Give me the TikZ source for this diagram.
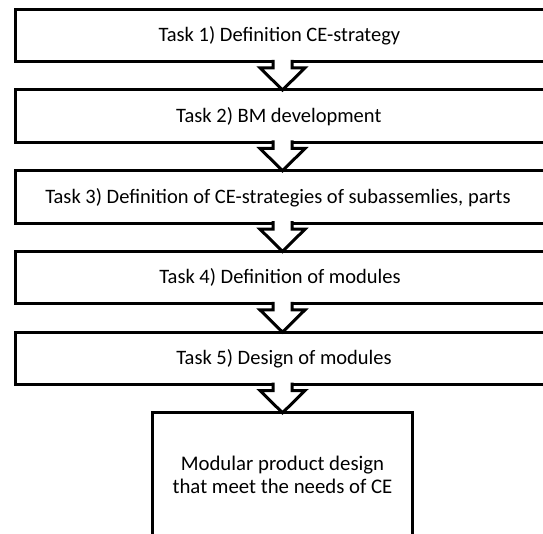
\documentclass[tikz,border=0pt]{standalone}
\usepackage{fontspec}
\setmainfont{Carlito}
\usetikzlibrary{positioning}
\usetikzlibrary{calc}
\tikzset{
    node distance=28.2pt,
    taskbox/.style={
        draw,
        line width=3pt,
        fill=white,
        minimum width=535pt,
        minimum height=52.5pt,
        inner sep=0pt,
        outer sep=0pt
    },
    tasktext/.style={
        anchor=base,
        inner sep=0pt,
        align=center,
        font=\fontsize{20.5}{23}\selectfont
    },
    blockarrow/.style={
        draw,
        fill=white,
        line width=3pt
    }
}

\begin{document}
\begin{tikzpicture}[x=1pt, y=-1pt]
    \useasboundingbox (0,0) rectangle (543,534);
    \clip (0,0) rectangle (543,534);

    \node[taskbox] (t1) at (282.5,35.55) {};
    \node[taskbox, below=of t1] (t2) {};
    \node[taskbox, below=of t2] (t3) {};
    \node[taskbox, below=of t3] (t4) {};
    \node[taskbox, below=of t4] (t5) {};
    \node[taskbox, below=of t5, minimum width=260.5pt, minimum height=146pt] (res) {};

    \node[tasktext, anchor=base west] (l1) at (158.3,41.8) {Task 1) Definition CE-strategy};
    \node[tasktext, anchor=base west] (l2) at (176,122.5) {Task 2) BM development};
    \node[tasktext] (l3) at (278,203.2) {Task 3) Definition of CE-strategies of subassemlies, parts};
    \node[tasktext] (l4) at (280,283.9) {Task 4) Definition of modules};
    \node[tasktext] (l5) at (284,364.6) {Task 5) Design of modules};
    \node[tasktext, font=\fontsize{20.8}{23}\selectfont] (lres) at (282.5,493) {Modular product design\\that meet the needs of CE};

    % hollow arrows between the steps
    \foreach \a/\b in {t1/t2, t2/t3, t3/t4, t4/t5, t5/res}
        \filldraw[blockarrow] ($(\a.south)+(-9.5,-2)$) -- ++(0,8) -- ++(-13,0)
            -- (\b.north) -- ($(\a.south)+(22.5,6)$) -- ++(-13,0) -- ++(0,-8);
\end{tikzpicture}
\end{document}
